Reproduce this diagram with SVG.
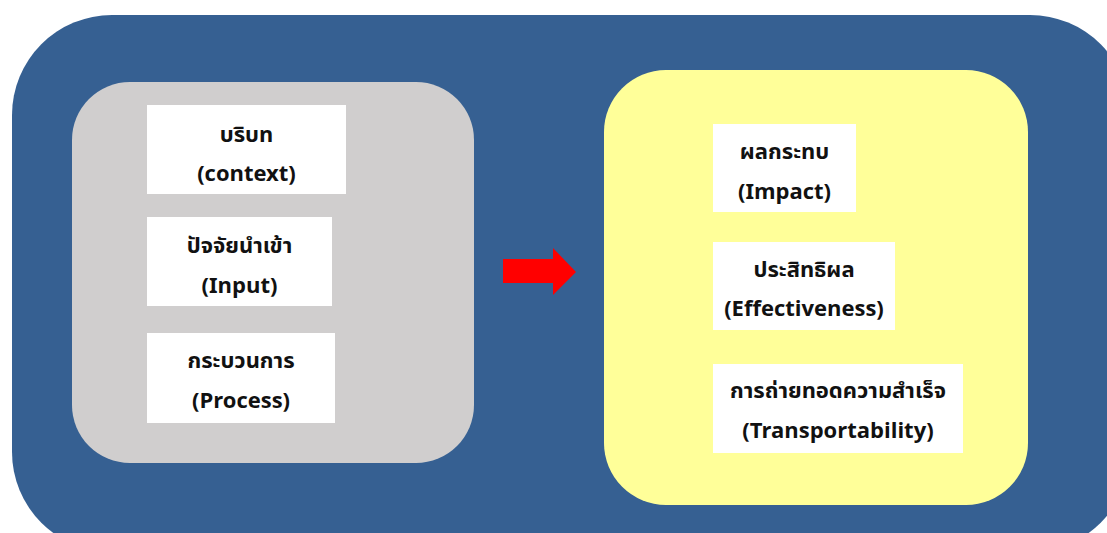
<svg xmlns="http://www.w3.org/2000/svg" width="1107" height="533" viewBox="0 0 1107 533">
  <style>
    .box { fill: #ffffff; }
    .t { font-family: "Noto Sans Thai", "Noto Sans", "DejaVu Sans", sans-serif; font-size: 22px; font-weight: bold; fill: #111111; text-anchor: middle; }
  </style>
  <rect width="1107" height="533" fill="#ffffff"/>
  <g id="frame">
    <rect x="12" y="15" width="1118" height="537" rx="100" ry="100" fill="#366092"/>
  </g>
  <g id="left-group">
    <rect x="72" y="82" width="402" height="381" rx="58" ry="58" fill="#D0CECE"/>
  </g>
  <g id="right-group">
    <rect x="604" y="70" width="424" height="435" rx="62" ry="62" fill="#FFFF99"/>
  </g>
  <g id="node-context">
    <rect class="box" x="147" y="105" width="199" height="89"/>
    <text class="t" x="246.5" y="142">บริบท</text>
    <text class="t" x="246.5" y="181">(context)</text>
  </g>
  <g id="node-input">
    <rect class="box" x="147" y="217" width="185" height="89"/>
    <text class="t" x="239.5" y="253">ปัจจัยนำเข้า</text>
    <text class="t" x="239.5" y="293">(Input)</text>
  </g>
  <g id="node-process">
    <rect class="box" x="147" y="333" width="188" height="90"/>
    <text class="t" x="241" y="368">กระบวนการ</text>
    <text class="t" x="241" y="408">(Process)</text>
  </g>
  <g id="node-impact">
    <rect class="box" x="713" y="124" width="143" height="88"/>
    <text class="t" x="784.5" y="159">ผลกระทบ</text>
    <text class="t" x="784.5" y="199">(Impact)</text>
  </g>
  <g id="node-effectiveness">
    <rect class="box" x="713" y="242" width="182" height="88"/>
    <text class="t" x="804" y="277">ประสิทธิผล</text>
    <text class="t" x="804" y="316">(Effectiveness)</text>
  </g>
  <g id="node-transportability">
    <rect class="box" x="713" y="364" width="250" height="89"/>
    <text class="t" x="838" y="398">การถ่ายทอดความสำเร็จ</text>
    <text class="t" x="838" y="438">(Transportability)</text>
  </g>
  <g id="connectors">
    <polygon points="503,259 553,259 553,248 576,272 553,295 553,283 503,283" fill="#FF0000"/>
  </g>
</svg>
